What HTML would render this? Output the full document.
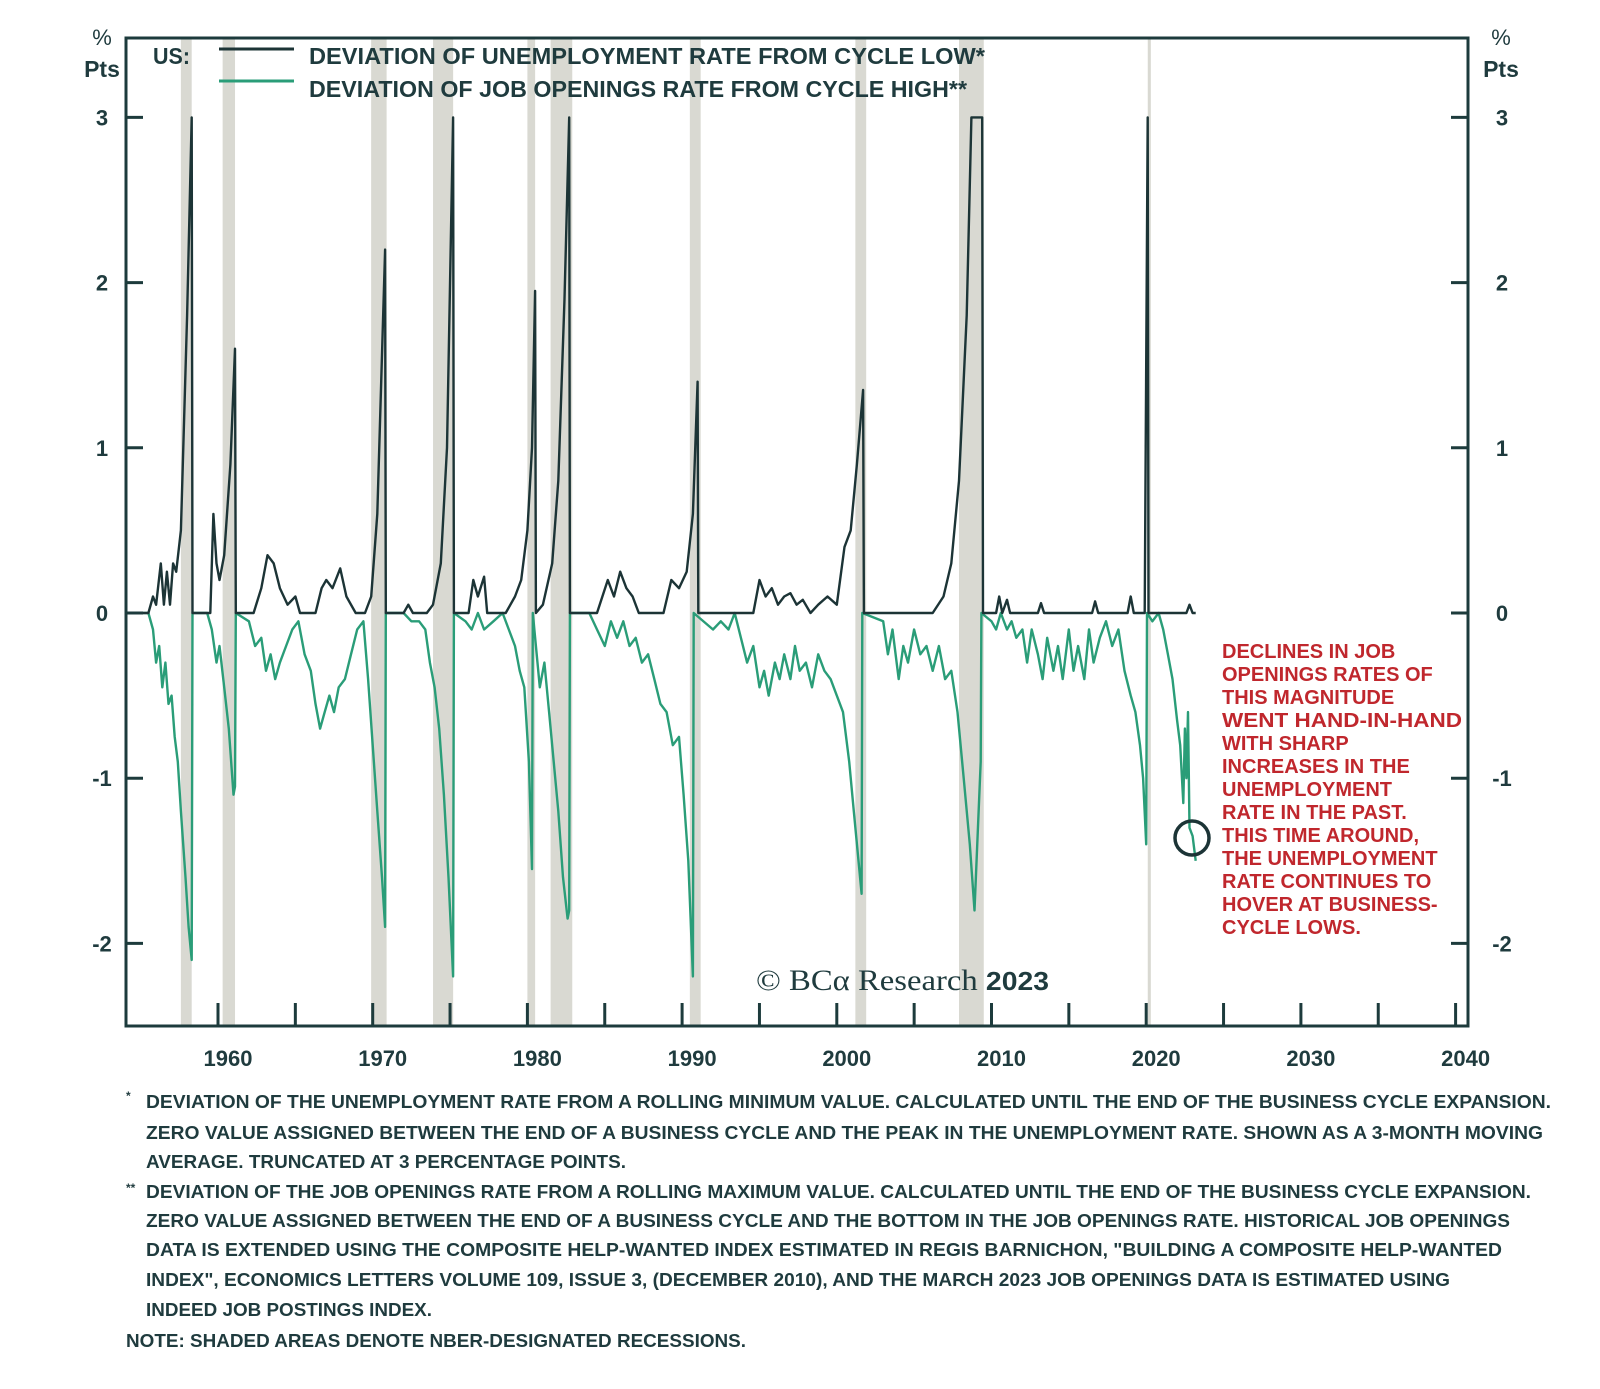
<!DOCTYPE html>
<html><head><meta charset="utf-8"><style>
html,body{margin:0;padding:0;background:#fff;}
svg{display:block;font-family:"Liberation Sans",sans-serif;}
</style></head><body>
<svg id="chart" width="1600" height="1389" viewBox="0 0 1600 1389" xmlns="http://www.w3.org/2000/svg">
<g id="shades"></g>
<g id="series"></g>
<g id="axes"></g>
<g font-weight="bold" fill="#1f3b3e">
 <text x="153" y="64" font-size="23" textLength="37" lengthAdjust="spacingAndGlyphs">US:</text>
 <line x1="219" y1="49" x2="294" y2="49" stroke="#1c3436" stroke-width="3"/>
 <line x1="219" y1="81" x2="294" y2="81" stroke="#2a9d78" stroke-width="3"/>
 <text x="309" y="64" font-size="23" textLength="676" lengthAdjust="spacingAndGlyphs">DEVIATION OF UNEMPLOYMENT RATE FROM CYCLE LOW*</text>
 <text x="309" y="97" font-size="23" textLength="658" lengthAdjust="spacingAndGlyphs">DEVIATION OF JOB OPENINGS RATE FROM CYCLE HIGH**</text>
</g>
<text x="756" y="990" font-family="Liberation Serif,serif" font-size="30" fill="#1f3b3e" textLength="293" lengthAdjust="spacingAndGlyphs">© BCα Research <tspan font-family="Liberation Sans,sans-serif" font-weight="bold" font-size="26">2023</tspan></text>
<g fill="#c0272d" font-weight="bold" font-size="20">
 <text x="1222" y="658">DECLINES IN JOB</text>
 <text x="1222" y="681">OPENINGS RATES OF</text>
 <text x="1222" y="704">THIS MAGNITUDE</text>
 <text x="1222" y="727" textLength="240" lengthAdjust="spacingAndGlyphs">WENT HAND-IN-HAND</text>
 <text x="1222" y="750">WITH SHARP</text>
 <text x="1222" y="773">INCREASES IN THE</text>
 <text x="1222" y="796">UNEMPLOYMENT</text>
 <text x="1222" y="819">RATE IN THE PAST.</text>
 <text x="1222" y="842">THIS TIME AROUND,</text>
 <text x="1222" y="865">THE UNEMPLOYMENT</text>
 <text x="1222" y="888">RATE CONTINUES TO</text>
 <text x="1222" y="911">HOVER AT BUSINESS-</text>
 <text x="1222" y="934">CYCLE LOWS.</text>
</g>
<circle cx="1192" cy="838" r="17" fill="none" stroke="#1c3436" stroke-width="3.5"/>
<g fill="#1f3b3e" font-size="18" font-weight="bold">
 <text x="126" y="1100" font-size="12">*</text>
 <text x="146" y="1108" textLength="1405" lengthAdjust="spacingAndGlyphs">DEVIATION OF THE UNEMPLOYMENT RATE FROM A ROLLING MINIMUM VALUE. CALCULATED UNTIL THE END OF THE BUSINESS CYCLE EXPANSION.</text>
 <text x="146" y="1139" textLength="1397" lengthAdjust="spacingAndGlyphs">ZERO VALUE ASSIGNED BETWEEN THE END OF A BUSINESS CYCLE AND THE PEAK IN THE UNEMPLOYMENT RATE. SHOWN AS A 3-MONTH MOVING</text>
 <text x="146" y="1168" textLength="480" lengthAdjust="spacingAndGlyphs">AVERAGE. TRUNCATED AT 3 PERCENTAGE POINTS.</text>
 <text x="126" y="1192" font-size="12">**</text>
 <text x="146" y="1198" textLength="1385" lengthAdjust="spacingAndGlyphs">DEVIATION OF THE JOB OPENINGS RATE FROM A ROLLING MAXIMUM VALUE. CALCULATED UNTIL THE END OF THE BUSINESS CYCLE EXPANSION.</text>
 <text x="146" y="1227" textLength="1364" lengthAdjust="spacingAndGlyphs">ZERO VALUE ASSIGNED BETWEEN THE END OF A BUSINESS CYCLE AND THE BOTTOM IN THE JOB OPENINGS RATE. HISTORICAL JOB OPENINGS</text>
 <text x="146" y="1256" textLength="1356" lengthAdjust="spacingAndGlyphs">DATA IS EXTENDED USING THE COMPOSITE HELP-WANTED INDEX ESTIMATED IN REGIS BARNICHON, "BUILDING A COMPOSITE HELP-WANTED</text>
 <text x="146" y="1286" textLength="1304" lengthAdjust="spacingAndGlyphs">INDEX", ECONOMICS LETTERS VOLUME 109, ISSUE 3, (DECEMBER 2010), AND THE MARCH 2023 JOB OPENINGS DATA IS ESTIMATED USING</text>
 <text x="146" y="1316" textLength="286" lengthAdjust="spacingAndGlyphs">INDEED JOB POSTINGS INDEX.</text>
 <text x="126" y="1347" textLength="620" lengthAdjust="spacingAndGlyphs">NOTE: SHADED AREAS DENOTE NBER-DESIGNATED RECESSIONS.</text>
</g>
</svg>
<script>
const recessionStarts = [1957.6,1960.3,1969.9,1973.9,1980.0,1981.5,1990.5,2001.2,2007.9,2020.1];
const recessionEnds   = [1958.3,1961.1,1970.9,1975.2,1980.5,1982.9,1991.2,2001.9,2009.5,2020.3];
const xTickYears = [1960,1965,1970,1975,1980,1985,1990,1995,2000,2005,2010,2015,2020,2025,2030,2035,2040];
const xLabelYears = [1960,1970,1980,1990,2000,2010,2020,2030,2040];
const yTicks = [3,2,1,0,-1,-2];
const unempYears = [1954.1,1955.5,1955.8,1956.0,1956.3,1956.5,1956.7,1956.9,1957.1,1957.3,1957.6,1958.0,1958.3,1958.35,1959.5,1959.7,1959.9,1960.1,1960.4,1960.8,1961.1,1961.15,1962.3,1962.8,1963.2,1963.6,1964.0,1964.5,1965.0,1965.3,1966.3,1966.7,1967.0,1967.4,1967.9,1968.3,1968.9,1969.5,1969.9,1970.3,1970.8,1970.85,1972.0,1972.3,1972.6,1973.5,1973.9,1974.4,1974.8,1975.2,1975.25,1976.2,1976.5,1976.8,1977.2,1977.4,1978.6,1979.2,1979.6,1980.0,1980.3,1980.5,1980.55,1981.0,1981.6,1982.0,1982.4,1982.7,1982.75,1984.5,1985.2,1985.6,1986.0,1986.4,1986.8,1987.2,1988.8,1989.3,1989.8,1990.3,1990.7,1991.0,1991.05,1994.6,1995.0,1995.4,1995.8,1996.2,1996.6,1997.0,1997.4,1997.8,1998.3,1998.8,1999.4,2000.0,2000.5,2000.9,2001.3,2001.7,2001.75,2006.2,2006.9,2007.4,2007.9,2008.4,2008.7,2009.2,2009.4,2009.45,2010.3,2010.5,2010.7,2011.0,2011.2,2013.0,2013.2,2013.4,2016.5,2016.7,2016.9,2018.8,2019.0,2019.2,2019.9,2020.1,2020.15,2022.6,2022.8,2023.0,2023.2];
const unempValues = [0,0,0.1,0.05,0.3,0.05,0.25,0.05,0.3,0.25,0.5,1.8,3.0,0,0,0.6,0.3,0.2,0.35,0.9,1.6,0,0,0.15,0.35,0.3,0.15,0.05,0.1,0,0,0.15,0.2,0.15,0.27,0.1,0,0,0.1,0.6,2.2,0,0,0.05,0,0,0.05,0.3,1.0,3.0,0,0,0.2,0.1,0.22,0,0,0.1,0.2,0.5,1.0,1.95,0,0.05,0.3,0.8,1.9,3.0,0,0,0.2,0.1,0.25,0.15,0.1,0,0,0.2,0.15,0.25,0.6,1.4,0,0,0.2,0.1,0.15,0.05,0.1,0.12,0.05,0.08,0,0.05,0.1,0.05,0.4,0.5,0.9,1.35,0,0,0.1,0.3,0.8,1.8,3.0,3.0,3.0,0,0,0.1,0,0.08,0,0,0.06,0,0,0.07,0,0,0.1,0,0,3.0,0,0,0.05,0,0];
const jobsYears = [1954.1,1955.5,1955.8,1956.0,1956.2,1956.4,1956.6,1956.8,1957.0,1957.2,1957.4,1957.6,1957.9,1958.1,1958.3,1958.35,1959.3,1959.6,1959.9,1960.1,1960.4,1960.7,1961.0,1961.1,1961.15,1962.0,1962.4,1962.8,1963.1,1963.4,1963.7,1964.0,1964.4,1964.8,1965.2,1965.6,1966.0,1966.3,1966.6,1966.9,1967.2,1967.5,1967.8,1968.2,1968.6,1969.0,1969.4,1969.7,1970.0,1970.3,1970.6,1970.8,1970.85,1972.0,1972.5,1973.0,1973.4,1973.7,1974.0,1974.3,1974.6,1974.9,1975.2,1975.25,1976.0,1976.4,1976.8,1977.2,1977.8,1978.4,1978.8,1979.2,1979.5,1979.8,1980.1,1980.3,1980.35,1980.8,1981.1,1981.4,1981.7,1982.0,1982.3,1982.6,1982.7,1982.75,1984.0,1984.5,1985.0,1985.4,1985.8,1986.2,1986.6,1987.0,1987.4,1987.8,1988.2,1988.6,1989.0,1989.4,1989.8,1990.1,1990.4,1990.7,1990.75,1992.0,1992.5,1993.0,1993.4,1993.8,1994.2,1994.6,1995.0,1995.3,1995.6,1996.0,1996.3,1996.6,1997.0,1997.3,1997.6,1998.0,1998.4,1998.8,1999.2,1999.6,2000.0,2000.4,2000.8,2001.1,2001.4,2001.6,2001.65,2003.0,2003.3,2003.6,2004.0,2004.3,2004.6,2005.0,2005.4,2005.8,2006.2,2006.6,2007.0,2007.4,2007.8,2008.2,2008.6,2008.9,2009.3,2009.35,2010.0,2010.3,2010.6,2011.0,2011.3,2011.6,2012.0,2012.3,2012.6,2013.0,2013.3,2013.6,2014.0,2014.3,2014.6,2015.0,2015.3,2015.6,2016.0,2016.3,2016.6,2017.0,2017.4,2017.8,2018.2,2018.6,2019.0,2019.3,2019.6,2019.8,2020.0,2020.05,2020.4,2020.8,2021.1,2021.4,2021.7,2022.0,2022.2,2022.4,2022.5,2022.6,2022.7,2022.8,2023.0,2023.2];
const jobsValues = [0,0,-0.1,-0.3,-0.2,-0.45,-0.3,-0.55,-0.5,-0.75,-0.9,-1.2,-1.6,-1.9,-2.1,0,0,-0.1,-0.3,-0.2,-0.45,-0.7,-1.1,-1.05,0,-0.05,-0.2,-0.15,-0.35,-0.25,-0.4,-0.3,-0.2,-0.1,-0.05,-0.25,-0.35,-0.55,-0.7,-0.6,-0.5,-0.6,-0.45,-0.4,-0.25,-0.1,-0.05,-0.4,-0.8,-1.2,-1.6,-1.9,0,0,-0.05,-0.05,-0.1,-0.3,-0.45,-0.7,-1.1,-1.6,-2.2,0,-0.05,-0.1,0,-0.1,-0.05,0,-0.1,-0.2,-0.35,-0.45,-0.9,-1.55,0,-0.45,-0.3,-0.6,-0.9,-1.2,-1.6,-1.85,-1.8,0,0,-0.1,-0.2,-0.05,-0.15,-0.05,-0.2,-0.15,-0.3,-0.25,-0.4,-0.55,-0.6,-0.8,-0.75,-1.1,-1.5,-2.2,0,-0.1,-0.05,-0.1,0,-0.15,-0.3,-0.2,-0.45,-0.35,-0.5,-0.3,-0.4,-0.25,-0.4,-0.2,-0.35,-0.3,-0.45,-0.25,-0.35,-0.4,-0.5,-0.6,-0.9,-1.2,-1.5,-1.7,0,-0.05,-0.25,-0.1,-0.4,-0.2,-0.3,-0.1,-0.25,-0.2,-0.35,-0.2,-0.4,-0.35,-0.6,-1.0,-1.4,-1.8,-0.9,0,-0.05,-0.1,0,-0.1,-0.05,-0.15,-0.1,-0.3,-0.1,-0.25,-0.4,-0.15,-0.35,-0.2,-0.4,-0.1,-0.35,-0.2,-0.4,-0.1,-0.3,-0.15,-0.05,-0.2,-0.1,-0.35,-0.5,-0.6,-0.8,-1.0,-1.4,0,-0.05,0,-0.1,-0.25,-0.4,-0.65,-0.8,-1.15,-0.7,-1.0,-0.6,-1.3,-1.35,-1.5];

const L=126, R=1468, T=38, B=1026;
function xs(yr){ return 218 + (yr-1960)*15.47; }
function ys(v){ return 613 - v*165.2; }
const NS='http://www.w3.org/2000/svg';
function mk(tag, parent, attrs){ const e=document.createElementNS(NS,tag); for(const k in attrs) e.setAttribute(k, attrs[k]); parent.appendChild(e); return e; }
const shades=document.getElementById('shades');
recessionStarts.forEach((s,i)=>{
  const r=mk('rect',shades,{x:xs(s),y:T,width:xs(recessionEnds[i])-xs(s),height:B-T,fill:'#d9d9d2'});
  
  
});
const series=document.getElementById('series');
function pathOf(xa,va){ return xa.map((yr,i)=>(i?'L':'M')+xs(yr).toFixed(1)+','+ys(va[i]).toFixed(1)).join(''); }
const gLine=mk('path',series,{d:pathOf(jobsYears,jobsValues),fill:'none',stroke:'#2a9d78','stroke-width':2.4,'stroke-linejoin':'round'});


const uLine=mk('path',series,{d:pathOf(unempYears,unempValues),fill:'none',stroke:'#1c3436','stroke-width':2.4,'stroke-linejoin':'round'});


const axes=document.getElementById('axes');
const frame=mk('rect',axes,{x:L,y:T,width:R-L,height:B-T,fill:'none',stroke:'#1d3b3c','stroke-width':3});


xTickYears.forEach(yr=>{
  const t=mk('line',axes,{x1:xs(yr),x2:xs(yr),y1:B,y2:B-23,stroke:'#1d3b3c','stroke-width':3});
  
  
});
xLabelYears.forEach(yr=>{
  const t=mk('text',axes,{x:xs(yr)+10,y:1066,'text-anchor':'middle','font-size':22,'font-weight':'bold',fill:'#1f3b3e'});
  t.textContent=String(yr);
  
  
});
yTicks.forEach(v=>{
  const a=mk('line',axes,{x1:L,x2:L+17,y1:ys(v),y2:ys(v),stroke:'#1d3b3c','stroke-width':3});
  
  
  const b=mk('line',axes,{x1:R-17,x2:R,y1:ys(v),y2:ys(v),stroke:'#1d3b3c','stroke-width':3});
  
  
  const l1=mk('text',axes,{x:102,y:ys(v)+8,'text-anchor':'middle','font-size':22,'font-weight':'bold',fill:'#1f3b3e'});
  l1.textContent=String(v);
  
  
  const l2=mk('text',axes,{x:1502,y:ys(v)+8,'text-anchor':'middle','font-size':22,'font-weight':'bold',fill:'#1f3b3e'});
  l2.textContent=String(v);
  
  
});
[[102],[1501]].forEach(([x])=>{
  const p=mk('text',axes,{x:x,y:45,'text-anchor':'middle','font-size':22,fill:'#1f3b3e'});
  p.textContent='%';
  
  
  const q=mk('text',axes,{x:x,y:77,'text-anchor':'middle','font-size':23,'font-weight':'bold',fill:'#1f3b3e'});
  q.textContent='Pts';
  
  
});
</script>
</body></html>
